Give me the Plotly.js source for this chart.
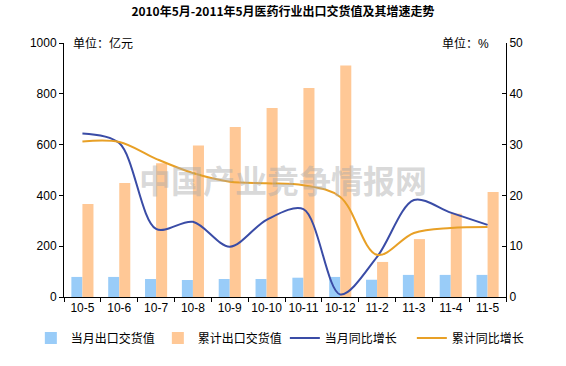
<!DOCTYPE html>
<html>
<head>
<meta charset="utf-8">
<script src="https://cdn.plot.ly/plotly-3.0.1.min.js"></script>
<style>html,body{margin:0;padding:0;background:#fff;}#chart{width:566px;height:366px;}</style>
</head>
<body>
<div id="chart"></div>
<script>
const categories = ["10-5","10-6","10-7","10-8","10-9","10-10","10-11","10-12","11-2","11-3","11-4","11-5"];
const monthlyExport = [79, 79, 71, 67, 71, 71, 76, 79, 68, 87, 87, 87];
const cumulativeExport = [366, 449, 527, 596, 669, 744, 823, 911, 138, 228, 328, 413];
const monthlyGrowth = [32.2, 30.3, 13.4, 14.8, 9.9, 15.2, 17.3, 0.5, 7.9, 19.1, 16.6, 14.2];
const cumulativeGrowth = [30.6, 30.5, 27.2, 24.4, 22.7, 22.4, 22.0, 19.7, 8.3, 12.6, 13.6, 13.8];
const leftTicks = [0, 200, 400, 600, 800, 1000];
const rightTicks = [0, 10, 20, 30, 40, 50];

const FONT = "Arial, 'Liberation Sans', 'Noto Sans CJK SC', sans-serif";
const traces = [
  {type:"bar", name:"当月出口交货值", x:categories, y:monthlyExport, marker:{color:"#99CCF8"}, yaxis:"y"},
  {type:"bar", name:"累计出口交货值", x:categories, y:cumulativeExport, marker:{color:"#FFC896"}, yaxis:"y"},
  {type:"scatter", mode:"lines", name:"当月同比增长", x:categories, y:monthlyGrowth, yaxis:"y2",
   line:{color:"#3A4CA6", width:2, shape:"spline", smoothing:0.9}},
  {type:"scatter", mode:"lines", name:"累计同比增长", x:categories, y:cumulativeGrowth, yaxis:"y2",
   line:{color:"#E8A026", width:2, shape:"spline", smoothing:1}}
];
const layout = {
  width:566, height:366,
  margin:{l:64, r:60, t:43, b:69, autoexpand:false},
  paper_bgcolor:"#fff", plot_bgcolor:"#fff",
  font:{family:FONT, size:12, color:"#000"},
  title:{text:"<b>2010年5月-2011年5月医药行业出口交货值及其增速走势</b>", x:0.5, xanchor:"center", y:0.98, yanchor:"top",
    font:{family:"'Noto Sans CJK SC', sans-serif", size:12, color:"#000"}},
  barmode:"group", bargap:0.4, bargroupgap:0,
  showlegend:true,
  legend:{orientation:"h", x:-0.075, xanchor:"left", y:-0.161, yanchor:"middle",
    font:{size:12, family:FONT}, traceorder:"normal", itemwidth:30, tracegroupgap:0,
    entrywidth:82, entrywidthmode:"pixels"},
  xaxis:{type:"category", tickson:"boundaries", ticks:"outside", ticklen:4, tickcolor:"#000", tickangle:0, automargin:false,
    showline:true, linecolor:"#000", linewidth:1, showgrid:false, tickfont:{size:12}},
  yaxis:{range:[0,1000], tickvals:leftTicks, ticks:"outside", ticklen:4, tickcolor:"#000", automargin:false,
    showline:true, linecolor:"#000", linewidth:1, showgrid:false, zeroline:false, tickfont:{size:12}},
  yaxis2:{range:[0,50], tickvals:rightTicks, overlaying:"y", side:"right", ticks:"inside", ticklen:4, tickcolor:"#000", automargin:false,
    showline:true, linecolor:"#000", linewidth:1, showgrid:false, zeroline:false, tickfont:{size:12}},
  annotations:[
    {text:"单位：亿元", xref:"paper", yref:"paper", x:0.015, y:1.0, xanchor:"left", yanchor:"middle", showarrow:false, font:{size:12}},
    {text:"单位：%", xref:"paper", yref:"paper", x:0.965, y:1.0, xanchor:"right", yanchor:"middle", showarrow:false, font:{size:12}},
    {text:"<b>中国产业竞争情报网</b>", xref:"paper", yref:"paper", x:0.495, y:0.465, xanchor:"center", yanchor:"middle", showarrow:false,
     font:{size:32, color:"rgba(170,170,170,0.45)", family:"'Noto Sans CJK SC', sans-serif"}}
  ]
};
Plotly.newPlot("chart", traces, layout, {displayModeBar:false, staticPlot:true});
</script>
</body>
</html>
